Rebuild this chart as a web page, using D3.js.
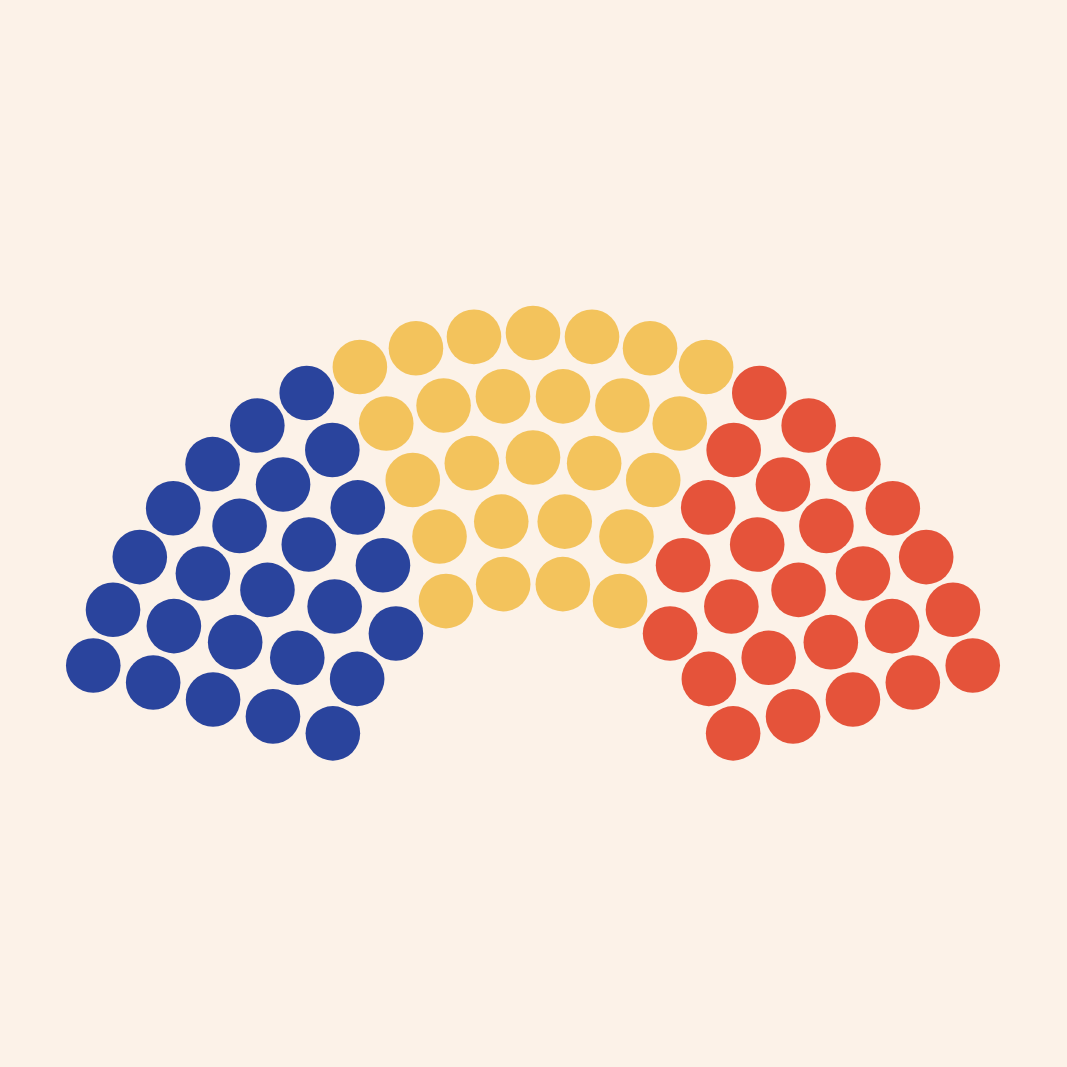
<!DOCTYPE html>
<html>
<head>
<meta charset="utf-8">
<script src="https://cdn.jsdelivr.net/npm/d3@7"></script>
<style>
  html, body { margin: 0; padding: 0; background: #fcf2e8; }
  svg { display: block; }
</style>
</head>
<body>
<svg id="chart"></svg>
<script>
// seats per party, left to right
const parties = ["Blue", "Yellow", "Red"];
const seats = [25, 26, 25];
const colors = ["#2a449d", "#f3c35c", "#e5533a"];

const width = 1067;
const height = 1067;
const cx = 533;
const cy = 790;
const rings = 5;
const dotRadius = 27.3;
const startAngle = 15.8;   // degrees above horizontal, right end
const endAngle = 164.2;    // left end

const svg = d3.select("#chart")
    .attr("width", width)
    .attr("height", height);

svg.append("rect")
    .attr("width", width)
    .attr("height", height)
    .attr("fill", "#fcf2e8");

const total = d3.sum(seats);

// ring radius by ring index
const radius = d3.scaleLinear()
    .domain([0, rings - 1])
    .range([208, 457]);

// seats per ring proportional to ring radius
const radii = d3.range(rings).map(radius);
const rSum = d3.sum(radii);
const perRing = radii.map(r => Math.round(total * r / rSum));
perRing[rings - 1] += total - d3.sum(perRing);

// build seat positions
let positions = [];
perRing.forEach((n, ring) => {
    const angle = d3.scaleLinear()
        .domain([0, n - 1])
        .range([endAngle, startAngle]);
    d3.range(n).forEach(i => {
        const a = angle(i) * Math.PI / 180;
        const r = radius(ring);
        positions.push({
            angle: angle(i),
            ring: ring,
            x: cx + r * Math.cos(a),
            y: cy - r * Math.sin(a)
        });
    });
});

// order left to right, inner ring first on ties
positions.sort((a, b) => d3.descending(a.angle, b.angle) || d3.ascending(a.ring, b.ring));

// assign parties
const bounds = d3.cumsum(seats);
const partyOf = d3.scaleThreshold()
    .domain(Array.from(bounds).slice(0, -1))
    .range(d3.range(parties.length));

positions.forEach((p, i) => { p.party = partyOf(i); });

const color = d3.scaleOrdinal()
    .domain(d3.range(parties.length))
    .range(colors);

svg.append("g")
    .selectAll("circle")
    .data(positions)
    .enter()
    .append("circle")
    .attr("cx", d => d.x)
    .attr("cy", d => d.y)
    .attr("r", dotRadius)
    .attr("fill", d => color(d.party));
</script>
</body>
</html>
